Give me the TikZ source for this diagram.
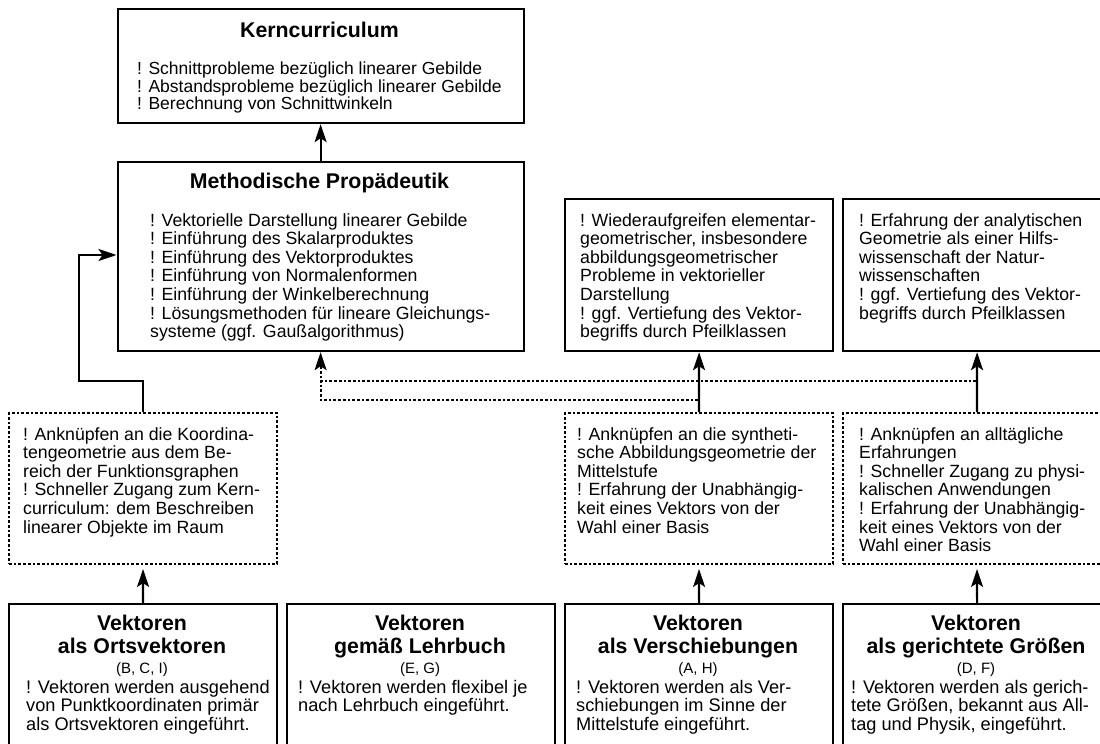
\documentclass[tikz,border=0pt]{standalone}
\usepackage{fontspec}
\setmainfont{Liberation Sans}
\usetikzlibrary{arrows.meta}
\tikzset{
  solidbox/.style={draw, line width=2.2pt, rectangle, inner sep=0pt, anchor=north west},
  dotbox/.style={draw, line width=2pt, dash pattern=on 2.7pt off 2pt, rectangle, inner sep=0pt, anchor=north west},
  conn/.style={line width=2.2pt, -{Stealth[length=18pt,width=12pt,inset=4pt]}},
  dotconn/.style={line width=2pt, dash pattern=on 2.7pt off 2pt},
  body/.style={font=\fontsize{17.7}{18.6}\selectfont, align=left, inner sep=0pt, anchor=north west},
  kbody/.style={font=\fontsize{17.5}{17.5}\selectfont, align=left, inner sep=0pt, anchor=north west},
  bbody/.style={font=\fontsize{18.2}{18.6}\selectfont, align=left, inner sep=0pt, anchor=north west},
  headline/.style={font=\bfseries\fontsize{21.3}{23}\selectfont, align=center, inner sep=0pt},
  small/.style={font=\fontsize{15}{16}\selectfont, inner sep=0pt, anchor=base},
}
\begin{document}
\begin{tikzpicture}[x=1pt,y=-1pt]
\useasboundingbox (0,0) rectangle (1100,744);
\clip (0,0) rectangle (1100,744);
% top boxes
\node[solidbox, minimum width=406pt, minimum height=114pt] (kern) at (116.5,8) {};
\node[headline, anchor=base] (kernH) at (319.5,37) {Kerncurriculum};
\node[kbody] (kernT) at (137,62) {! Schnittprobleme bezüglich linearer Gebilde\\
! Abstandsprobleme bezüglich linearer Gebilde\\
! Berechnung von Schnittwinkeln};

\node[solidbox, minimum width=406pt, minimum height=189pt] (meth) at (116.5,161) {};
\node[headline, anchor=base] (methH) at (319.5,188) {Methodische Propädeutik};
\node[body] (methT) at (150,213) {! Vektorielle Darstellung linearer Gebilde\\
! Einführung des Skalarproduktes\\
! Einführung des Vektorproduktes\\
! Einführung von Normalenformen\\
! Einführung der Winkelberechnung\\
! Lösungsmethoden für lineare Gleichungs-\\
systeme (ggf. Gaußalgorithmus)};

\node[solidbox, minimum width=268pt, minimum height=152pt] (box3) at (564,198) {};
\node[body] (box3T) at (580,213) {! Wiederaufgreifen elementar-\\
geometrischer, insbesondere\\
abbildungsgeometrischer\\
Probleme in vektorieller\\
Darstellung\\
! ggf. Vertiefung des Vektor-\\
begriffs durch Pfeilklassen};

\node[solidbox, minimum width=268pt, minimum height=152pt] (box4) at (842,198) {};
\node[body] (box4T) at (859,213) {! Erfahrung der analytischen\\
Geometrie als einer Hilfs-\\
wissenschaft der Natur-\\
wissenschaften\\
! ggf. Vertiefung des Vektor-\\
begriffs durch Pfeilklassen};

% dotted boxes
\node[dotbox, minimum width=268pt, minimum height=151pt] (d1) at (8,412) {};
\node[body] (d1T) at (23,427) {! Anknüpfen an die Koordina-\\
tengeometrie aus dem Be-\\
reich der Funktionsgraphen\\
! Schneller Zugang zum Kern-\\
curriculum: dem Beschreiben\\
linearer Objekte im Raum};

\node[dotbox, minimum width=268pt, minimum height=151pt] (d3) at (564,412) {};
\node[body] (d3T) at (577,427) {! Anknüpfen an die syntheti-\\
sche Abbildungsgeometrie der\\
Mittelstufe\\
! Erfahrung der Unabhängig-\\
keit eines Vektors von der\\
Wahl einer Basis};

\node[dotbox, minimum width=268pt, minimum height=151pt] (d4) at (842,412) {};
\node[body] (d4T) at (859,427) {! Anknüpfen an alltägliche\\
Erfahrungen\\
! Schneller Zugang zu physi-\\
kalischen Anwendungen\\
! Erfahrung der Unabhängig-\\
keit eines Vektors von der\\
Wahl einer Basis};

% bottom boxes
\node[solidbox, minimum width=268pt, minimum height=170pt] (b1) at (8,603) {};
\node[headline, anchor=north] (b1H) at (142,615) {Vektoren\\als Ortsvektoren};
\node[small] (b1S) at (142,673) {(B, C, I)};
\node[bbody] (b1T) at (26,680) {! Vektoren werden ausgehend\\
von Punktkoordinaten primär\\
als Ortsvektoren eingeführt.};

\node[solidbox, minimum width=268pt, minimum height=170pt] (b2) at (286,603) {};
\node[headline, anchor=north] (b2H) at (420,615) {Vektoren\\gemäß Lehrbuch};
\node[small] (b2S) at (420,673) {(E, G)};
\node[bbody] (b2T) at (298,680) {! Vektoren werden flexibel je\\
nach Lehrbuch eingeführt.};

\node[solidbox, minimum width=268pt, minimum height=170pt] (b3) at (564,603) {};
\node[headline, anchor=north] (b3H) at (698,615) {Vektoren\\als Verschiebungen};
\node[small] (b3S) at (698,673) {(A, H)};
\node[bbody] (b3T) at (576,680) {! Vektoren werden als Ver-\\
schiebungen im Sinne der\\
Mittelstufe eingeführt.};

\node[solidbox, minimum width=268pt, minimum height=170pt] (b4) at (842,603) {};
\node[headline, anchor=north] (b4H) at (976,615) {Vektoren\\als gerichtete Größen};
\node[small] (b4S) at (976,673) {(D, F)};
\node[bbody] (b4T) at (851,680) {! Vektoren werden als gerich-\\
tete Größen, bekannt aus All-\\
tag und Physik, eingeführt.};

% connectors
\coordinate (lk1) at (79,381);
\coordinate (lk2) at (79,255);
\coordinate (c4) at (976,381);
\coordinate (c3) at (698,400);
\draw[conn] (meth.north) -- (kern.south);
\draw[conn] (d1.north) |- (lk1) -- (lk2) -- (lk2 -| meth.west);
\draw[dotconn] (c3) -| (meth.south |- c4);
\draw[dotconn, -{Stealth[length=18pt,width=12pt,inset=4pt]}] (c4) -| (meth.south);
\draw[conn] (d3.north) -- (box3.south);
\draw[conn] (d4.north) -- (box4.south);
\draw[conn, shorten >=4pt] (b1.north) -- (d1.south);
\draw[conn, shorten >=4pt] (b3.north) -- (d3.south);
\draw[conn, shorten >=4pt] (b4.north) -- (d4.south);
\end{tikzpicture}
\end{document}
